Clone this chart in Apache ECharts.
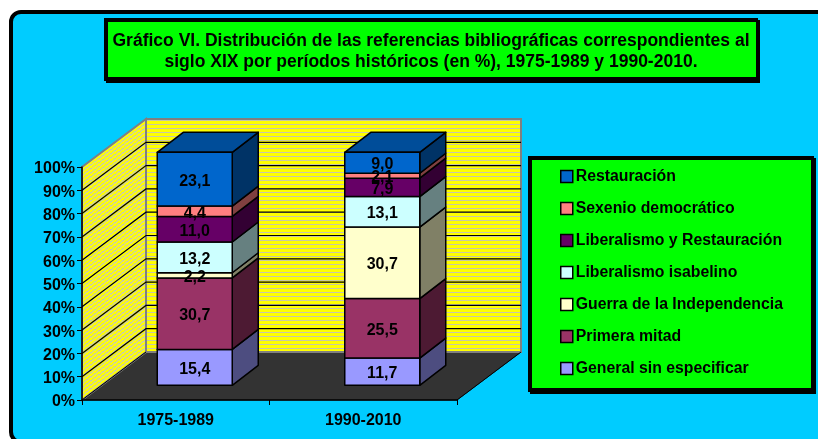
<!DOCTYPE html>
<html>
<head>
<meta charset="utf-8">
<style>html,body{margin:0;padding:0;background:#fff}#c{width:818px;height:439px}</style>
<script src="https://cdn.jsdelivr.net/npm/echarts@6/dist/echarts.min.js"></script>
</head>
<body>
<div id="c"></div>
<script>
var categories = ['1975-1989', '1990-2010'];
var seriesNames = ['General sin especificar', 'Primera mitad', 'Guerra de la Independencia', 'Liberalismo isabelino', 'Liberalismo y Restauración', 'Sexenio democrático', 'Restauración'];
var generalSinEspecificar = [15.4, 11.7];
var primeraMitad = [30.7, 25.5];
var guerraIndependencia = [2.2, 30.7];
var liberalismoIsabelino = [13.2, 13.1];
var liberalismoRestauracion = [11.0, 7.9];
var sexenioDemocratico = [4.4, 2.1];
var restauracion = [23.1, 9.0];
var stackValues = [generalSinEspecificar, primeraMitad, guerraIndependencia, liberalismoIsabelino, liberalismoRestauracion, sexenioDemocratico, restauracion];
var frontColors = ['#9999FF', '#993366', '#FFFFCC', '#CCFFFF', '#660066', '#FF8080', '#0066CC'];
var sideColors = ['#4D4D80', '#4D1A33', '#808066', '#668080', '#330033', '#804040', '#003366'];
var topColor = '#004D99';
var yTicks = [0, 10, 20, 30, 40, 50, 60, 70, 80, 90, 100];
var titleText = 'Gráfico VI. Distribución de las referencias bibliográficas correspondientes al\nsiglo XIX por períodos históricos (en %), 1975-1989 y 1990-2010.';

var FONT = '"Liberation Sans", Arial, sans-serif';
var STRIPE = '#C8C8A8', STRIPE2 = '#E6E660', WALL = '#FFFF00';
var wallDX = 64, wallDY = -48, barOX = 19, barOY = -14.7, barDX = 26, barDY = -20;

function tile(w, h, slope, soft) {
  var c = document.createElement('canvas'); c.width = w; c.height = h;
  var x = c.getContext('2d');
  for (var i = 0; i < w; i++) for (var j = 0; j < h; j++) {
    var p = (((j + Math.round(i * slope)) % 4) + 4) % 4;
    x.fillStyle = p === 0 ? STRIPE : (soft && p === 1 ? STRIPE2 : WALL);
    x.fillRect(i, j, 1, 1);
  }
  return c;
}
var backPattern = { image: tile(4, 4, 0, false), repeat: 'repeat' };
var sidePattern = { image: tile(16, 4, 0.75, true), repeat: 'repeat' };

function renderWalls(params, api) {
  var band = api.size([1, 0])[0];
  var x0 = api.coord([0, 0])[0] - band / 2;
  var x1 = api.coord([1, 0])[0] + band / 2;
  var y0 = api.coord([0, 0])[1], y1 = api.coord([0, 100])[1];
  var ch = [];
  ch.push({ type: 'polygon', shape: { points: [[x0, y0], [x0 + wallDX, y0 + wallDY], [x1 + wallDX, y0 + wallDY], [x1, y0]] }, style: { fill: '#333333', stroke: '#333333', lineWidth: 1 } });
  ch.push({ type: 'polygon', shape: { points: [[x0, y0], [x0 + wallDX, y0 + wallDY], [x0 + wallDX, y1 + wallDY], [x0, y1]] }, style: { fill: sidePattern, stroke: '#808080', lineWidth: 2 } });
  ch.push({ type: 'polygon', shape: { points: [[x0 + wallDX, y0 + wallDY], [x1 + wallDX, y0 + wallDY], [x1 + wallDX, y1 + wallDY], [x0 + wallDX, y1 + wallDY]] }, style: { fill: backPattern, stroke: '#808080', lineWidth: 2 } });
  yTicks.forEach(function (t) {
    if (t === 0 || t === 100) return;
    var y = api.coord([0, t])[1];
    ch.push({ type: 'polyline', shape: { points: [[x0, y], [x0 + wallDX, y + wallDY], [x1 + wallDX, y + wallDY]] }, style: { fill: 'none', stroke: '#000', lineWidth: 1.2 } });
  });
  ch.push({ type: 'line', shape: { x1: x0, y1: y0, x2: x0 + wallDX, y2: y0 + wallDY }, style: { stroke: '#000', lineWidth: 1 } });
  ch.push({ type: 'line', shape: { x1: x1, y1: y0, x2: x1 + wallDX, y2: y0 + wallDY }, style: { stroke: '#000', lineWidth: 1 } });
  return { type: 'group', children: ch };
}

function renderSegment(si) {
  return function (params, api) {
    var cat = api.value(0), a = api.value(1), b = api.value(2), val = api.value(3);
    var w = api.size([1, 0])[0] * 0.4;
    var cx = api.coord([cat, 0])[0] + barOX;
    var ya = api.coord([cat, a])[1] + barOY, yb = api.coord([cat, b])[1] + barOY;
    var xl = cx - w / 2, xr = cx + w / 2;
    var st = { stroke: '#000', lineWidth: 1.5, lineJoin: 'round' };
    var ch = [];
    ch.push({ type: 'polygon', z2: 1, shape: { points: [[xr, ya], [xr + barDX, ya + barDY], [xr + barDX, yb + barDY], [xr, yb]] }, style: Object.assign({ fill: sideColors[si] }, st) });
    if (si === stackValues.length - 1) {
      ch.push({ type: 'polygon', z2: 1, shape: { points: [[xl, yb], [xl + barDX, yb + barDY], [xr + barDX, yb + barDY], [xr, yb]] }, style: Object.assign({ fill: topColor }, st) });
    }
    ch.push({ type: 'rect', z2: 2, shape: { x: xl, y: yb, width: w, height: ya - yb }, style: Object.assign({ fill: frontColors[si] }, st) });
    ch.push({ type: 'text', z2: 20, x: cx, y: (ya + yb) / 2 + 2, style: { text: val.toFixed(1).replace('.', ','), fill: '#000', font: 'bold 16px ' + FONT, textAlign: 'center', textVerticalAlign: 'middle' } });
    return { type: 'group', children: ch };
  };
}

var series = [{ type: 'custom', name: '_walls', z: 1, silent: true, data: [[0]], renderItem: renderWalls, encode: { x: 0 }, clip: false }];
stackValues.forEach(function (vals, si) {
  series.push({
    type: 'custom', name: seriesNames[si], z: 4, clip: false,
    itemStyle: { color: frontColors[si] },
    renderItem: renderSegment(si),
    encode: { x: 0, y: [1, 2] },
    data: vals.map(function (v, ci) {
      var start = 0;
      for (var k = 0; k < si; k++) start += stackValues[k][ci];
      return [ci, start, start + v, v];
    })
  });
});

var legendData = seriesNames.map(function (n, i) {
  return { name: n, icon: 'rect', itemStyle: { color: frontColors[i], borderColor: '#000', borderWidth: 1.5 } };
}).reverse();

var chart = echarts.init(document.getElementById('c'), null, { renderer: 'canvas' });
chart.setOption({
  animation: false,
  backgroundColor: '#fff',
  grid: { left: 82, top: 167, width: 375, height: 233, containLabel: false },
  title: {
    text: titleText, left: 426, top: 25.5, textAlign: 'center',
    textStyle: { fontFamily: FONT, fontSize: 17.5, fontWeight: 'bold', color: '#000', lineHeight: 21 }
  },
  legend: {
    orient: 'vertical', left: 555, top: 163, itemWidth: 12, itemHeight: 12, itemGap: 15,
    data: legendData, selectedMode: false,
    textStyle: { fontFamily: FONT, fontSize: 15.8, fontWeight: 'bold', color: '#000', lineHeight: 17, padding: [0, 0, 0, -2] }
  },
  xAxis: {
    type: 'category', data: categories, z: 3,
    axisLine: { lineStyle: { color: '#000', width: 1.5 } },
    axisTick: { show: true, length: 5, lineStyle: { color: '#000', width: 1 } },
    axisLabel: { fontFamily: FONT, fontSize: 16, fontWeight: 'bold', color: '#000', margin: 13 }
  },
  yAxis: {
    type: 'value', min: 0, max: 100, interval: 10, z: 3, splitLine: { show: false },
    axisLine: { show: true, lineStyle: { color: '#000', width: 1.5 } },
    axisTick: { show: true, length: 5, lineStyle: { color: '#000', width: 1 } },
    axisLabel: {
      margin: 7, color: '#000',
      formatter: '{a|{value}%}',
      rich: { a: { fontFamily: FONT, fontSize: 16, fontWeight: 'bold', color: '#000', padding: [4, 0, 0, 0] } }
    }
  },
  series: series,
  graphic: [
    { type: 'rect', z: -5, shape: { x: 11, y: 12, width: 830, height: 430, r: 10 }, style: { fill: '#00CCFF', stroke: '#000', lineWidth: 4 } },
    { type: 'rect', z: -4, shape: { x: 104, y: 18, width: 654, height: 63 }, style: { fill: '#000' } },
    { type: 'rect', z: -4, shape: { x: 106, y: 20, width: 654, height: 63 }, style: { fill: '#000' } },
    { type: 'rect', z: -3, shape: { x: 108, y: 22, width: 648, height: 55 }, style: { fill: '#00FF00' } },
    { type: 'rect', z: -4, shape: { x: 528, y: 156, width: 286, height: 236 }, style: { fill: '#000' } },
    { type: 'rect', z: -4, shape: { x: 530, y: 158, width: 286, height: 236 }, style: { fill: '#000' } },
    { type: 'rect', z: -3, shape: { x: 532, y: 160, width: 279, height: 228 }, style: { fill: '#00FF00' } }
  ]
});
</script>
</body>
</html>
